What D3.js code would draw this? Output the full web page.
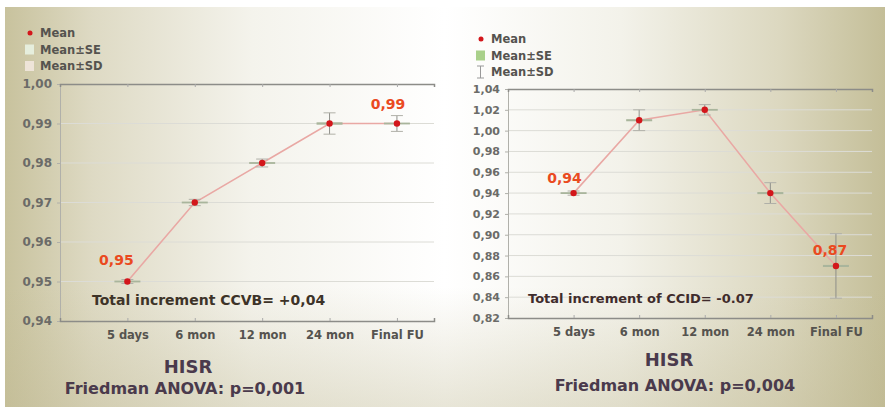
<!DOCTYPE html>
<html><head><meta charset="utf-8">
<script src="https://cdn.jsdelivr.net/npm/d3@7"></script>
<style>html,body{margin:0;padding:0;background:#fff;}svg{display:block;font-family:"DejaVu Sans",sans-serif;font-weight:bold;}</style>
</head><body>
<svg id="c" width="890" height="409"></svg>
<script>
// ---- data ----
const categories = ["5 days", "6 mon", "12 mon", "24 mon", "Final FU"];
const leftMean = [0.95, 0.97, 0.98, 0.99, 0.99];
const leftSD   = [0.0005, 0.0008, 0.001, 0.0027, 0.002];
const leftSE   = [0.0002, 0.0002, 0.0002, 0.0003, 0.0002];
const leftTicks = [0.94, 0.95, 0.96, 0.97, 0.98, 0.99, 1.00];
const rightMean = [0.94, 1.01, 1.02, 0.94, 0.87];
const rightSD   = [0.002, 0.01, 0.005, 0.01, 0.031];
const rightSE   = [0.0005, 0.001, 0.0005, 0.001, 0.001];
const rightTicks = [0.82, 0.84, 0.86, 0.88, 0.90, 0.92, 0.94, 0.96, 0.98, 1.00, 1.02, 1.04];
const legendItems = ["Mean", "Mean±SE", "Mean±SD"];
const leftLabels = [{i:0, text:"0,95"}, {i:4, text:"0,99"}];
const rightLabels = [{i:0, text:"0,94"}, {i:4, text:"0,87"}];
const leftNote = "Total increment CCVB= +0,04";
const rightNote = "Total increment of CCID= -0.07";
const titleText = "HISR";
const leftStat = "Friedman ANOVA: p=0,001";
const rightStat = "Friedman ANOVA: p=0,004";

const svg = d3.select("#c");
const defs = svg.append("defs");
const lg0 = defs.append("linearGradient").attr("id","bg").attr("x1",0).attr("x2",1).attr("y1",0).attr("y2",0);
[[0,"#c8c29d"],[0.1,"#dedac4"],[0.28,"#f4f3ec"],[0.5,"#ffffff"],[0.7,"#f3f2ea"],[0.88,"#dcd8c0"],[1,"#c4be98"]].forEach(s=>
  lg0.append("stop").attr("offset",s[0]).attr("stop-color",s[1]));
const vg = defs.append("linearGradient").attr("id","bgv").attr("x1",0).attr("x2",0).attr("y1",0).attr("y2",1);
[[0,"#bdb68e",0.0],[0.7,"#bdb68e",0.0],[1,"#bdb68e",0.35]].forEach(s=>
  vg.append("stop").attr("offset",s[0]).attr("stop-color",s[1]).attr("stop-opacity",s[2]));
svg.append("rect").attr("x",5).attr("y",7).attr("width",880).attr("height",400).attr("fill","url(#bg)");
svg.append("rect").attr("x",5).attr("y",7).attr("width",880).attr("height",400).attr("fill","url(#bgv)");

const fmt = v => d3.format(".2f")(v).replace(".", ",");

function panel(o) {
  const g = svg.append("g");
  const x = d3.scaleLinear().domain([0, 5.55]).range([o.x0, o.x1]);
  const y = d3.scaleLinear().domain(o.yDomain).range([o.yBottom, o.yTop]);
  // gridlines
  g.append("g").selectAll("line").data(o.ticks.slice(1,-1)).join("line")
    .attr("x1", o.x0).attr("x2", o.x1).attr("y1", d=>y(d)).attr("y2", d=>y(d))
    .attr("stroke","#dcdcd6").attr("stroke-width",1);
  // left axis
  const ya = g.append("g").attr("transform",`translate(${o.x0},0)`)
    .call(d3.axisLeft(y).tickValues(o.ticks).tickFormat(fmt).tickSize(3).tickPadding(o.tickPad));
  ya.select(".domain").attr("stroke","#b0b0aa");
  ya.selectAll(".tick line").attr("stroke","#b0b0aa");
  ya.selectAll("text").attr("fill","#6b6b68").attr("font-size",o.tickFont).attr("font-family","DejaVu Sans").attr("font-weight","bold");
  // top line
  const ta = g.append("g").attr("transform",`translate(0,${o.yTop})`)
    .call(d3.axisBottom(x).tickValues([1,2,3,4,5]).tickFormat("").tickSize(3));
  ta.select(".domain").attr("stroke","#8c8c88").attr("stroke-width",1.5);
  ta.selectAll(".tick line").attr("stroke","#aaa");
  // bottom axis
  const xa = g.append("g").attr("transform",`translate(0,${o.yBottom})`)
    .call(d3.axisBottom(x).tickValues([1,2,3,4,5]).tickFormat(i=>categories[i-1]).tickSize(-3).tickPadding(o.catPad));
  xa.select(".domain").attr("stroke","#8c8c88").attr("stroke-width",1.5);
  xa.selectAll(".tick line").attr("stroke","#aaa");
  xa.selectAll("text").attr("fill","#55534f").attr("font-size",o.catFont).attr("font-family","DejaVu Sans").attr("font-weight","bold");
  // line
  const pts = o.mean.map((m,i)=>({i, m, sd:o.sd[i], se:o.se[i]}));
  g.append("path").datum(pts)
    .attr("d", d3.line().x(d=>x(d.i+1)).y(d=>y(d.m)))
    .attr("fill","none").attr("stroke","#e9a8a4").attr("stroke-width",1.6);
  // SD whiskers
  const w = g.append("g").selectAll("g").data(pts).join("g");
  w.append("line").attr("x1",d=>x(d.i+1)).attr("x2",d=>x(d.i+1))
    .attr("y1",d=>y(d.m+d.sd)).attr("y2",d=>y(d.m-d.sd)).attr("stroke","#8f8f8a").attr("stroke-width",1);
  [1,-1].forEach(s=>w.append("line").attr("x1",d=>x(d.i+1)-6).attr("x2",d=>x(d.i+1)+6)
    .attr("y1",d=>y(d.m+s*d.sd)).attr("y2",d=>y(d.m+s*d.sd)).attr("stroke","#b0b0a8").attr("stroke-width",1));
  // SE box
  w.append("rect").attr("x",d=>x(d.i+1)-13).attr("width",26)
    .attr("y",d=>Math.min(y(d.m+d.se), y(d.m)-0.9))
    .attr("height",d=>Math.max(y(d.m-d.se)-y(d.m+d.se),1.8))
    .attr("fill","#a9b59c");
  // mean points
  g.append("g").selectAll("circle").data(pts).join("circle")
    .attr("cx",d=>x(d.i+1)).attr("cy",d=>y(d.m)).attr("r",3.2).attr("fill","#d3161b");
  // value labels
  g.append("g").selectAll("text").data(o.labels).join("text")
    .attr("x",d=>x(d.i+1)+o.labelDx[d.i]).attr("y",d=>y(o.mean[d.i])+o.labelDy[d.i])
    .attr("text-anchor","middle").attr("fill","#ea4a1f").attr("font-size",14).text(d=>d.text);
  // legend
  const lg = g.append("g");
  legendItems.forEach((t,k)=>{
    const ly = o.legY + k*16.5;
    lg.append("text").attr("x",o.legX+12).attr("y",ly).attr("dy","0.35em")
      .attr("font-size",11.5).attr("fill","#55534f").text(t);
  });
  lg.append("circle").attr("cx",o.legX+2).attr("cy",o.legY).attr("r",2.5).attr("fill","#d3161b");
  if (o.legSymbols) {
    lg.append("rect").attr("x",o.legX-3).attr("y",o.legY+16.5-5).attr("width",9).attr("height",10).attr("fill","#a9d08a");
    const sy = o.legY + 33;
    lg.append("line").attr("x1",o.legX+1.5).attr("x2",o.legX+1.5).attr("y1",sy-6).attr("y2",sy+6).attr("stroke","#999");
    [-6,6].forEach(dv=>lg.append("line").attr("x1",o.legX-2).attr("x2",o.legX+5).attr("y1",sy+dv).attr("y2",sy+dv).attr("stroke","#999"));
  } else {
    lg.append("rect").attr("x",o.legX-3).attr("y",o.legY+16.5-5).attr("width",9).attr("height",10).attr("fill","#e6eedd");
    lg.append("rect").attr("x",o.legX-3).attr("y",o.legY+33-5).attr("width",9).attr("height",10).attr("fill","#eee4d8");
  }
  // note
  g.append("text").attr("x",o.noteX).attr("y",o.noteY).attr("dy","0.35em")
    .attr("font-size",o.noteFont).attr("fill",o.noteColor).text(o.note);
  // titles
  g.append("text").attr("x",o.titleX).attr("y",o.titleY).attr("dy","0.35em").attr("text-anchor","middle")
    .attr("font-size",18).attr("fill","#4a3a4c").text(titleText);
  g.append("text").attr("x",o.statX).attr("y",o.statY).attr("dy","0.35em").attr("text-anchor","middle")
    .attr("font-size",16).attr("fill","#4a3a4c").text(o.stat);
}

panel({x0:60, x1:434, yDomain:[0.94,1.00], yBottom:321, yTop:84, ticks:leftTicks, tickFont:12, tickPad:5,
  catFont:11.5, catPad:10, mean:leftMean, sd:leftSD, se:leftSE, labels:leftLabels,
  labelDx:[-11,0,0,0,-9], labelDy:[-16.5,0,0,0,-14.5],
  legX:28, legY:33, legSymbols:false,
  note:leftNote, noteX:92, noteY:300, noteFont:14, noteColor:"#3d3328",
  titleX:188, titleY:367, stat:leftStat, statX:185, statY:388});

panel({x0:508, x1:872, yDomain:[0.82,1.04], yBottom:318, yTop:89, ticks:rightTicks, tickFont:11, tickPad:5,
  catFont:11.5, catPad:10, mean:rightMean, sd:rightSD, se:rightSE, labels:rightLabels,
  labelDx:[-9,0,0,0,-6], labelDy:[-10,0,0,0,-11],
  legX:479, legY:39, legSymbols:true,
  note:rightNote, noteX:528, noteY:298, noteFont:13, noteColor:"#3f2c2c",
  titleX:669, titleY:360, stat:rightStat, statX:675, statY:385});
</script>
</body></html>
